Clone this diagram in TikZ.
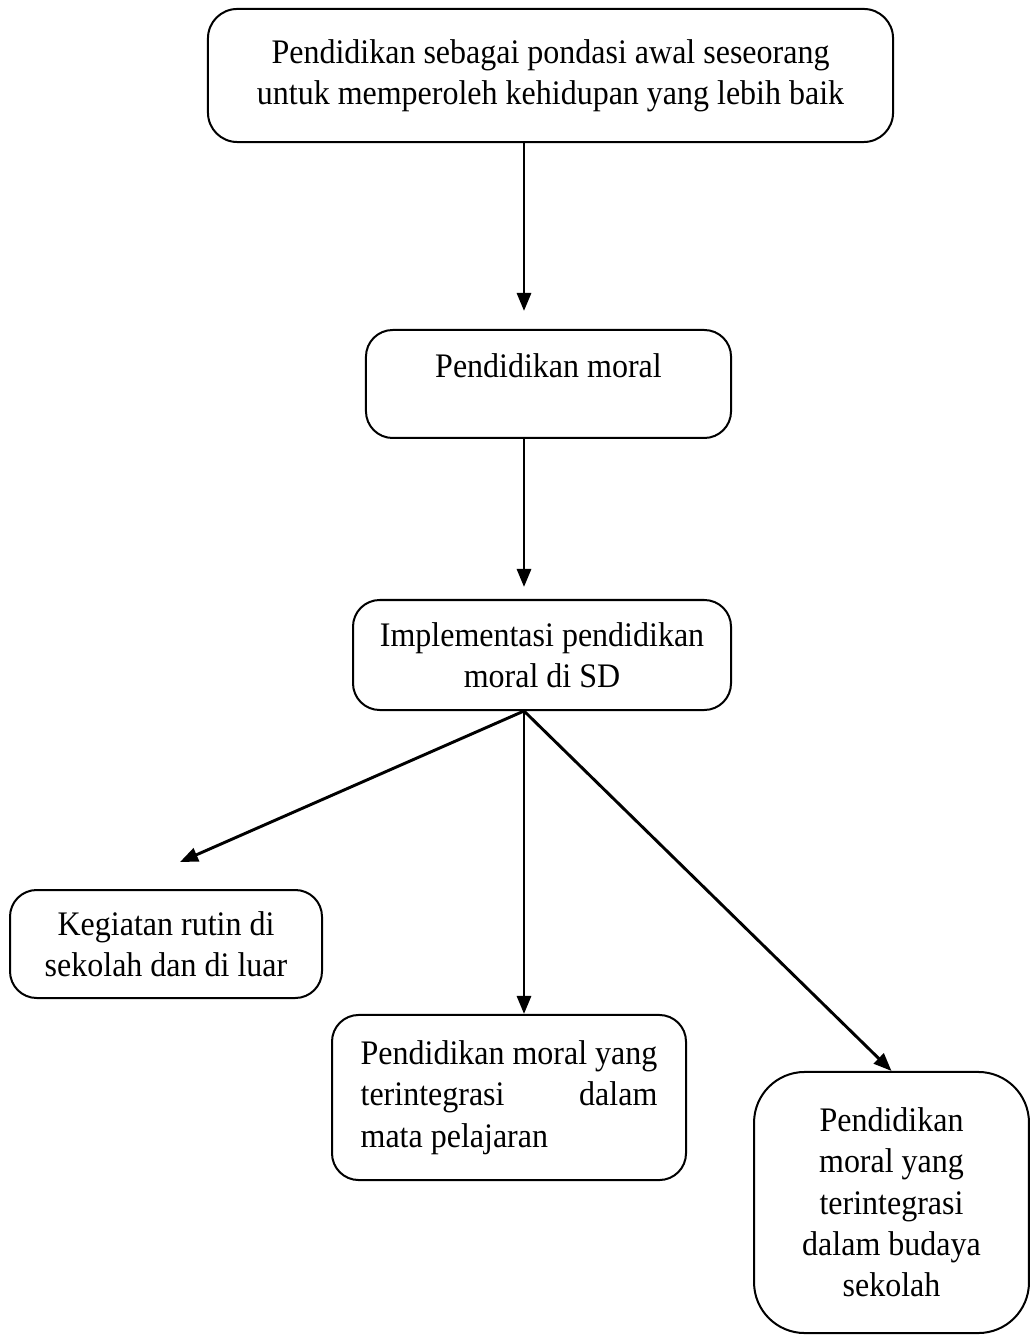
\documentclass[tikz,border=0pt]{standalone}
\usepackage{fontspec}
\usepackage{calc}
\setmainfont{Liberation Serif}[FakeStretch=0.93]
\usetikzlibrary{arrows.meta}
\tikzset{
  kotak/.style={draw, line width=0.75pt, rounded corners=10pt, font=\fontsize{12.9}{15.5}\selectfont, align=center, inner sep=0pt},
  panah/.style={line width=1.1pt, -{Triangle[length=6.75pt,width=5.25pt]}}
}
\begin{document}
\begin{tikzpicture}[x=0.375pt, y=-0.375pt]
                \useasboundingbox (0,0) rectangle (1031,1335);
                \coordinate(poros) at (524,0);
                \coordinate(ujung) at (180,862);

                \node(pondasi) [kotak, minimum width=256.9pt, minimum height=49.9pt, rounded corners=11pt] at (550.5,75.5) {Pendidikan sebagai pondasi awal seseorang\\untuk memperoleh kehidupan yang lebih baik};
                \node(moral) [kotak, minimum width=136.9pt, minimum height=40.5pt, text depth=14pt] at (548.5,384) {Pendidikan moral};
                \node(implementasi) [kotak, minimum width=141.75pt, minimum height=41.25pt] at (542,655) {Implementasi pendidikan\\moral di SD};
                \node(kegiatan) [kotak, minimum width=117pt, minimum height=40.5pt] at (166,944) {Kegiatan rutin di\\sekolah dan di luar};
                \node(mapel) [kotak, minimum width=132.75pt, minimum height=61.9pt, align=left] at (509,1097.5) {Pendidikan moral yang\\\makebox[\widthof{Pendidikan moral yang}][s]{terintegrasi dalam}\\mata pelajaran};
                \node(budaya) [kotak, minimum width=103.1pt, minimum height=97.9pt, rounded corners=19pt] at (891.5,1202.5) {Pendidikan\\moral yang\\terintegrasi\\dalam budaya\\sekolah};

                \draw[panah, shorten >=6.75pt] (pondasi.south -| poros) -- (moral.north -| poros);
                \draw[panah, shorten >=4.5pt] (moral.south -| poros) -- (implementasi.north -| poros);
                \draw[panah] (implementasi.south -| poros) -- (ujung);
                \draw[panah] (implementasi.south -| poros) -- (mapel.north -| poros);
                \draw[panah] (implementasi.south -| poros) -- (budaya.north);
\end{tikzpicture}
\end{document}
